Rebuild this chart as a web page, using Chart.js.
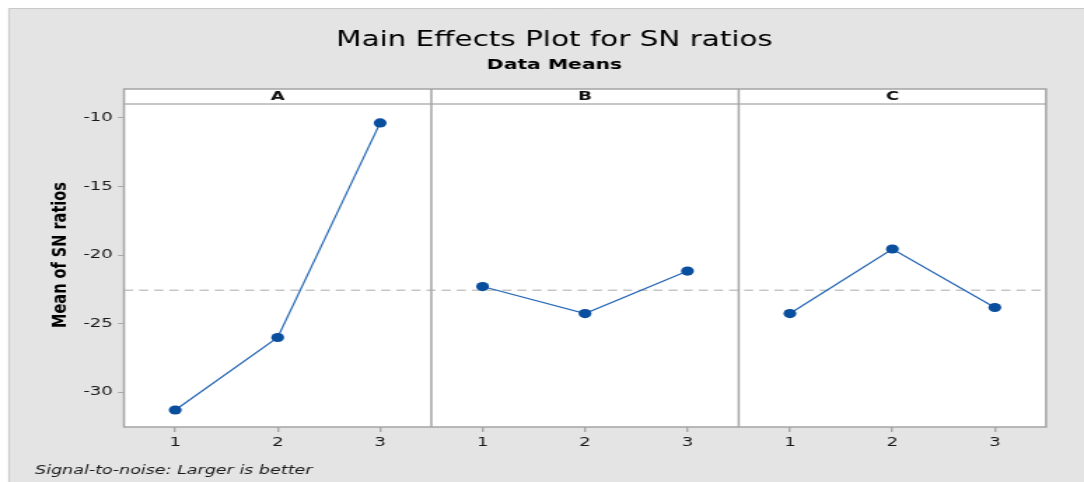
<!DOCTYPE html>
<html>
<head>
<meta charset="utf-8">
<title>Main Effects Plot for SN ratios</title>
<script src="https://cdn.jsdelivr.net/npm/chart.js@4.4.1/dist/chart.umd.min.js"></script>
<style>
    html, body { margin: 0; padding: 0; background: #ffffff; }
    canvas { display: block; }
</style>
</head>
<body>
<!-- the reference picture is stretched sideways, so the canvas is drawn narrow and shown wide -->
<canvas id="mainEffectsChart" width="774" height="482" style="width:1084px;height:482px"></canvas>
<script>
// Datos
const factors = ['A', 'B', 'C'];
const levels = ['1', '2', '3'];
const snA = [-31.31, -26.02, -10.36];
const snB = [-22.30, -24.27, -21.17];
const snC = [-24.27, -19.56, -23.83];
const yTickValues = [-30, -25, -20, -15, -10];

const panelValues = [snA, snB, snC];
const allValues = panelValues.flat();
const grandMean = allValues.reduce((s, v) => s + v, 0) / allValues.length;
const xTickValues = factors.flatMap((_, p) => levels.map((_, i) => p * levels.length + i + 1));

const FONT = 'DejaVu Sans';
const STRIP = 15; // alto de la franja con el nombre del factor

// Una serie por panel, mas la linea de la media global
const datasets = panelValues.map((values, p) => ({
    label: factors[p],
    data: values.map((v, i) => ({ x: p * levels.length + i + 1, y: v })),
    borderColor: '#2566b4',
    borderWidth: 1.2,
    pointBackgroundColor: '#0a4e9e',
    pointBorderColor: '#0a4e9e',
    pointBorderWidth: 0,
    pointRadius: 4.6,
    tension: 0,
    order: 1
}));
datasets.push({
    label: 'Media',
    data: [{ x: 0.5, y: grandMean }, { x: factors.length * levels.length + 0.5, y: grandMean }],
    borderColor: '#a9a9a9',
    borderWidth: 1,
    borderDash: [6.5, 4.3],
    pointRadius: 0,
    order: 2
});

const panelFrame = {
    id: 'panelFrame',
    beforeDraw(chart) {
        const { ctx, chartArea: a, width, height } = chart;
        ctx.save();
        ctx.fillStyle = '#ffffff';
        ctx.fillRect(0, 0, width, height);
        ctx.fillStyle = '#e4e4e4';
        ctx.fillRect(6.4, 8, width - 6.4, height - 8);
        ctx.strokeStyle = '#c9c9c9';
        ctx.lineWidth = 1;
        ctx.beginPath();
        ctx.moveTo(6.4, height);
        ctx.lineTo(6.4, 8.5);
        ctx.lineTo(width, 8.5);
        ctx.stroke();
        ctx.fillStyle = '#ffffff';
        ctx.fillRect(a.left, a.top - STRIP, a.right - a.left, a.bottom - a.top + STRIP);
        ctx.restore();
    },
    beforeDatasetsDraw(chart) {
        const { ctx, chartArea: a } = chart;
        const xs = chart.scales.x;
        ctx.save();
        // linea bajo la franja de titulos
        ctx.strokeStyle = '#b4b4b4';
        ctx.lineWidth = 1.3;
        ctx.beginPath();
        ctx.moveTo(a.left, a.top);
        ctx.lineTo(a.right, a.top);
        ctx.stroke();
        // marco y separadores de paneles
        ctx.strokeStyle = '#a4a4a4';
        ctx.lineWidth = 1.5;
        ctx.strokeRect(a.left, a.top - STRIP, a.right - a.left, a.bottom - a.top + STRIP);
        for (let p = 1; p < factors.length; p++) {
            const x = xs.getPixelForValue(p * levels.length + 0.5);
            ctx.beginPath();
            ctx.moveTo(x, a.top - STRIP);
            ctx.lineTo(x, a.bottom);
            ctx.stroke();
        }
        ctx.restore();
    },
    afterDraw(chart) {
        const { ctx, chartArea: a } = chart;
        const xs = chart.scales.x;
        ctx.save();
        ctx.fillStyle = '#111111';
        ctx.textAlign = 'center';
        ctx.textBaseline = 'middle';
        ctx.font = `bold 13px "${FONT}"`;
        factors.forEach((f, p) => {
            ctx.fillText(f, xs.getPixelForValue(p * levels.length + 2), a.top - STRIP / 2);
        });
        // titulo del eje y
        ctx.save();
        ctx.translate(42.8, 255);
        ctx.rotate(-Math.PI / 2);
        ctx.font = `bold 14.5px "${FONT}"`;
        ctx.fillStyle = '#000000';
        ctx.fillText('Mean of SN ratios', 0, 0);
        ctx.restore();
        // nota al pie
        ctx.textAlign = 'left';
        ctx.font = `italic 12.5px "${FONT}"`;
        ctx.fillStyle = '#1a1a1a';
        ctx.fillText('Signal-to-noise: Larger is better', 25, 471);
        ctx.restore();
    }
};

const ctx = document.getElementById('mainEffectsChart').getContext('2d');
new Chart(ctx, {
    type: 'line',
    data: { datasets },
    options: {
        responsive: false,
        devicePixelRatio: 1,
        animation: false,
        layout: { padding: { left: 44.9, right: 27.1, top: 0, bottom: 0 } },
        plugins: {
            legend: { display: false },
            tooltip: { enabled: false },
            title: {
                display: true,
                text: 'Main Effects Plot for SN ratios',
                color: '#000000',
                font: { family: FONT, size: 21, weight: 'normal' },
                padding: { top: 28.4, bottom: 0 }
            },
            subtitle: {
                display: true,
                text: 'Data Means',
                color: '#000000',
                font: { family: FONT, size: 14.5, weight: 'bold' },
                padding: { top: 3.2, bottom: 29.8 }
            }
        },
        scales: {
            x: {
                type: 'linear',
                min: 0.5,
                max: factors.length * levels.length + 0.5,
                afterBuildTicks: s => { s.ticks = xTickValues.map(v => ({ value: v })); },
                afterFit: s => { s.height = 55; },
                ticks: {
                    callback: v => levels[(v - 1) % levels.length],
                    autoSkip: false,
                    maxRotation: 0,
                    padding: 3,
                    color: '#1a1a1a',
                    font: { family: FONT, size: 13 }
                },
                grid: { drawOnChartArea: false, tickLength: 5, color: '#a8a8a8', lineWidth: 1.4 },
                border: { display: false }
            },
            y: {
                min: -32.55,
                max: -8.98,
                afterBuildTicks: s => { s.ticks = yTickValues.map(v => ({ value: v })); },
                afterFit: s => { s.width = 43.64; },
                ticks: {
                    padding: 3.6,
                    color: '#1a1a1a',
                    font: { family: FONT, size: 13 }
                },
                grid: { drawOnChartArea: false, tickLength: 4.3, color: '#a8a8a8', lineWidth: 1 },
                border: { display: false }
            }
        }
    },
    plugins: [panelFrame]
});
</script>
</body>
</html>
